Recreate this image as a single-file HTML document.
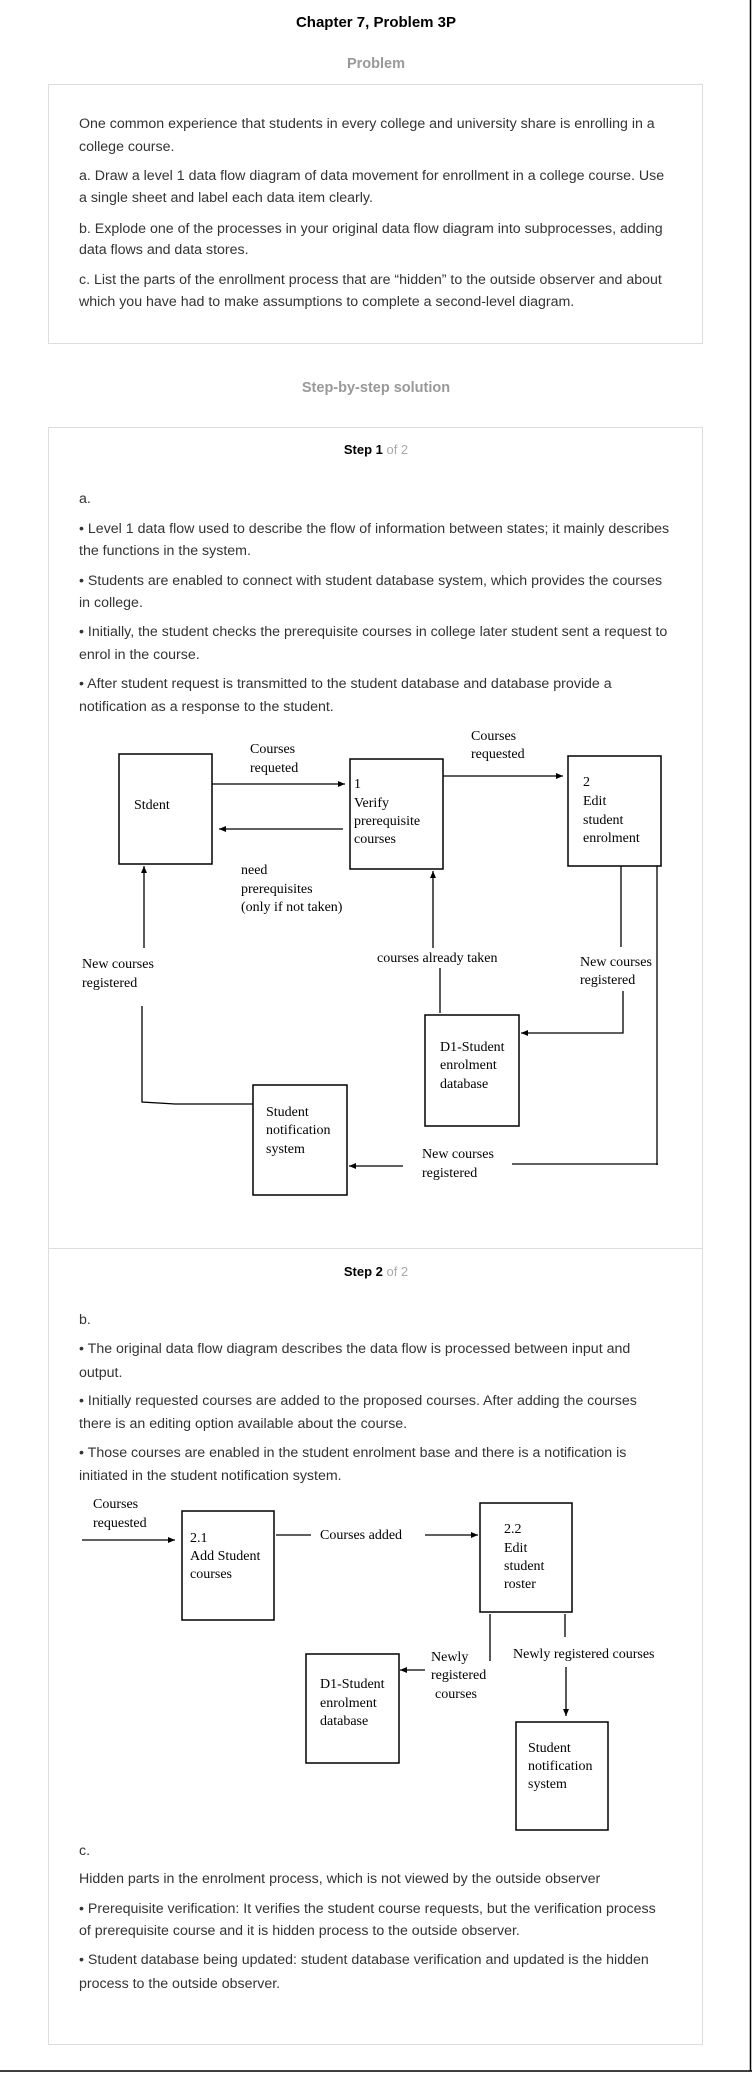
<!DOCTYPE html>
<html><head><meta charset="utf-8"><style>
html,body{margin:0;padding:0;background:#fff;}
svg{display:block;}
.t{font-family:"Liberation Sans",Arial,sans-serif;font-size:14.2px;fill:#333;}
.s{font-family:"Liberation Serif","Times New Roman",serif;font-size:14px;fill:#000;}
.h{font-family:"Liberation Sans",Arial,sans-serif;font-weight:bold;}
.b{fill:none;stroke:#000;stroke-width:1.5;}
.l{stroke:#000;stroke-width:1.3;fill:none;}
</style></head><body>
<svg width="752" height="2073" viewBox="0 0 752 2073" xmlns="http://www.w3.org/2000/svg">
<defs><marker id="a" markerWidth="8" markerHeight="8" refX="7" refY="4" orient="auto" markerUnits="userSpaceOnUse"><path d="M0,1 L7,4 L0,7 z" fill="#000"/></marker></defs>
<text x="376" y="27" text-anchor="middle" class="h" font-size="15" fill="#000">Chapter 7, Problem 3P</text>
<text x="376" y="68" text-anchor="middle" class="h" font-size="14.5" fill="#999">Problem</text>
<rect x="48.5" y="84.5" width="654" height="259" fill="none" stroke="#ddd"/>
<g class="t">
<text x="79" y="128">One common experience that students in every college and university share is enrolling in a</text>
<text x="79" y="151">college course.</text>
<text x="79" y="180">a. Draw a level 1 data flow diagram of data movement for enrollment in a college course. Use</text>
<text x="79" y="202">a single sheet and label each data item clearly.</text>
<text x="79" y="233">b. Explode one of the processes in your original data flow diagram into subprocesses, adding</text>
<text x="79" y="254">data flows and data stores.</text>
<text x="79" y="284">c. List the parts of the enrollment process that are “hidden” to the outside observer and about</text>
<text x="79" y="306">which you have had to make assumptions to complete a second-level diagram.</text>
</g>
<text x="376" y="392" text-anchor="middle" class="h" font-size="14.5" fill="#999">Step-by-step solution</text>
<rect x="48.5" y="427.5" width="654" height="1617" fill="none" stroke="#ddd"/>
<line x1="48" y1="1248.5" x2="703" y2="1248.5" stroke="#ddd"/>
<text x="376" y="454" text-anchor="middle" class="h" font-size="13" fill="#000">Step 1 <tspan font-weight="normal" fill="#aaa">of 2</tspan></text>
<text x="376" y="1276" text-anchor="middle" class="h" font-size="13" fill="#000">Step 2 <tspan font-weight="normal" fill="#aaa">of 2</tspan></text>
<g class="t">
<text x="79" y="503">a.</text>
<text x="79" y="533">• Level 1 data flow used to describe the flow of information between states; it mainly describes</text>
<text x="79" y="555">the functions in the system.</text>
<text x="79" y="585">• Students are enabled to connect with student database system, which provides the courses</text>
<text x="79" y="607">in college.</text>
<text x="79" y="636">• Initially, the student checks the prerequisite courses in college later student sent a request to</text>
<text x="79" y="659">enrol in the course.</text>
<text x="79" y="688">• After student request is transmitted to the student database and database provide a</text>
<text x="79" y="711">notification as a response to the student.</text>
<text x="79" y="1324">b.</text>
<text x="79" y="1353">• The original data flow diagram describes the data flow is processed between input and</text>
<text x="79" y="1377">output.</text>
<text x="79" y="1405">• Initially requested courses are added to the proposed courses. After adding the courses</text>
<text x="79" y="1428">there is an editing option available about the course.</text>
<text x="79" y="1457">• Those courses are enabled in the student enrolment base and there is a notification is</text>
<text x="79" y="1480">initiated in the student notification system.</text>
<text x="79" y="1855">c.</text>
<text x="79" y="1883">Hidden parts in the enrolment process, which is not viewed by the outside observer</text>
<text x="79" y="1913">• Prerequisite verification: It verifies the student course requests, but the verification process</text>
<text x="79" y="1935">of prerequisite course and it is hidden process to the outside observer.</text>
<text x="79" y="1964">• Student database being updated: student database verification and updated is the hidden</text>
<text x="79" y="1988">process to the outside observer.</text>
</g>
<!-- Diagram 1 -->
<rect x="119" y="754" width="93" height="110" class="b"/>
<rect x="350" y="759" width="93" height="110" class="b"/>
<rect x="568" y="756" width="93" height="110" class="b"/>
<rect x="253" y="1085" width="94" height="110" class="b"/>
<rect x="425" y="1015" width="94" height="111" class="b"/>
<line x1="212" y1="784" x2="345" y2="784" class="l" marker-end="url(#a)"/>
<line x1="343" y1="829" x2="219" y2="829" class="l" marker-end="url(#a)"/>
<line x1="443" y1="776" x2="563" y2="776" class="l" marker-end="url(#a)"/>
<line x1="144" y1="948" x2="144" y2="866" class="l" marker-end="url(#a)"/>
<polyline points="142,1006 142,1102 175,1104 253,1104" class="l"/>
<line x1="433" y1="948" x2="433" y2="871" class="l" marker-end="url(#a)"/>
<line x1="440" y1="968" x2="440" y2="1013" class="l"/>
<line x1="621" y1="866" x2="621" y2="947" class="l"/>
<polyline points="623,991 623,1033 521,1033" class="l" marker-end="url(#a)"/>
<line x1="657" y1="866" x2="657" y2="1165" class="l"/>
<line x1="658" y1="1164" x2="512" y2="1164" class="l"/>
<line x1="403" y1="1166" x2="349" y2="1166" class="l" marker-end="url(#a)"/>
<g class="s">
<text x="250" y="753">Courses</text><text x="250" y="772">requeted</text>
<text x="471" y="740">Courses</text><text x="471" y="758">requested</text>
<text x="354" y="788">1</text><text x="354" y="807">Verify</text><text x="354" y="825">prerequisite</text><text x="354" y="843">courses</text>
<text x="134" y="809">Stdent</text>
<text x="583" y="786">2</text><text x="583" y="805">Edit</text><text x="583" y="824">student</text><text x="583" y="842">enrolment</text>
<text x="241" y="874">need</text><text x="241" y="893">prerequisites</text><text x="241" y="911">(only if not taken)</text>
<text x="82" y="968">New courses</text><text x="82" y="987">registered</text>
<text x="266" y="1116">Student</text><text x="266" y="1134">notification</text><text x="266" y="1153">system</text>
<text x="377" y="962">courses already taken</text>
<text x="440" y="1051">D1-Student</text><text x="440" y="1069">enrolment</text><text x="440" y="1088">database</text>
<text x="580" y="966">New courses</text><text x="580" y="984">registered</text>
<text x="422" y="1158">New courses</text><text x="422" y="1177">registered</text>
</g>
<!-- Diagram 2 -->
<rect x="182" y="1511" width="92" height="109" class="b"/>
<rect x="480" y="1503" width="92" height="109" class="b"/>
<rect x="306" y="1654" width="93" height="109" class="b"/>
<rect x="516" y="1722" width="92" height="108" class="b"/>
<line x1="82" y1="1540" x2="175" y2="1540" class="l" marker-end="url(#a)"/>
<line x1="276" y1="1535" x2="311" y2="1535" class="l"/>
<line x1="425" y1="1535" x2="478" y2="1535" class="l" marker-end="url(#a)"/>
<line x1="490" y1="1614" x2="490" y2="1661" class="l"/>
<line x1="425" y1="1670" x2="400" y2="1670" class="l" marker-end="url(#a)"/>
<line x1="565" y1="1614" x2="565" y2="1637" class="l"/>
<line x1="566" y1="1667" x2="566" y2="1716" class="l" marker-end="url(#a)"/>
<g class="s">
<text x="93" y="1508">Courses</text><text x="93" y="1527">requested</text>
<text x="190" y="1542">2.1</text><text x="190" y="1560">Add Student</text><text x="190" y="1578">courses</text>
<text x="320" y="1539">Courses added</text>
<text x="504" y="1533">2.2</text><text x="504" y="1552">Edit</text><text x="504" y="1570">student</text><text x="504" y="1588">roster</text>
<text x="431" y="1661">Newly</text><text x="431" y="1679">registered</text><text x="435" y="1698">courses</text>
<text x="320" y="1688">D1-Student</text><text x="320" y="1707">enrolment</text><text x="320" y="1725">database</text>
<text x="513" y="1658">Newly registered courses</text>
<text x="528" y="1752">Student</text><text x="528" y="1770">notification</text><text x="528" y="1788">system</text>
</g>
<line x1="750.5" y1="0" x2="750.5" y2="2071" stroke="#000" stroke-width="1.5"/>
<line x1="0" y1="2071" x2="752" y2="2071" stroke="#000" stroke-width="1.5"/>
</svg>
</body></html>
